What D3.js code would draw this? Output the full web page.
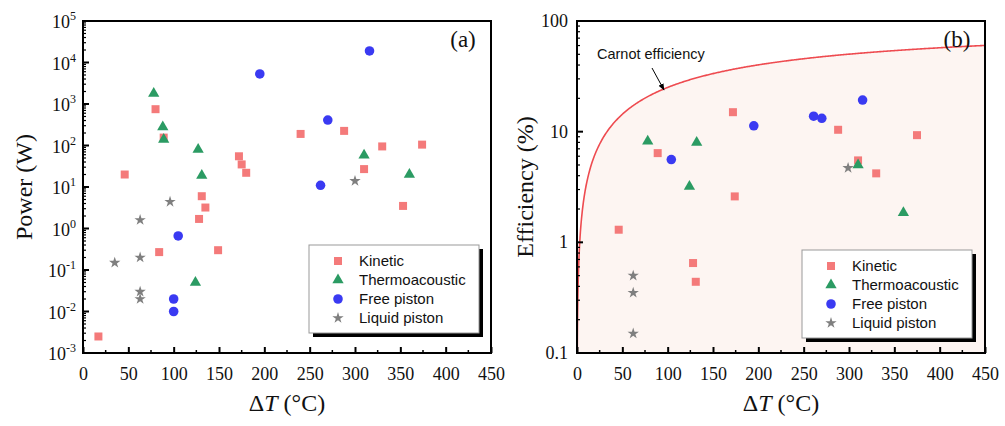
<!DOCTYPE html>
<html lang="en">
<head>
<meta charset="UTF-8">
<title>Power and efficiency vs temperature difference</title>
<script src="https://d3js.org/d3.v7.min.js"></script>
<style>
  body { margin: 0; background: #fff; }
  svg text { fill: #111; }
</style>
</head>
<body>
<div id="chart"></div>
<script>
// ---- data ----
var seriesNames = ["Kinetic", "Thermoacoustic", "Free piston", "Liquid piston"];
var seriesColors = ["#f47a7a", "#2b9b63", "#3a3af2", "#7f7f7f"];
var xTicks = [0, 50, 100, 150, 200, 250, 300, 350, 400, 450];

// (a) power, W
var kineticA_dT = [17, 46, 80, 89, 84, 131, 135, 128, 149, 172, 175, 180, 240, 288, 330, 374, 310, 353];
var kineticA_P = [0.0025, 20, 750, 155, 0.27, 6, 3.2, 1.7, 0.3, 55, 35, 22, 190, 225, 95, 105, 27, 3.5];
var thermoA_dT = [78, 88, 89, 127, 131, 124, 310, 360];
var thermoA_P = [1800, 280, 140, 80, 19, 0.05, 58, 20];
var freeA_dT = [195, 316, 270, 262, 105, 100, 100];
var freeA_P = [5300, 19000, 410, 11, 0.66, 0.02, 0.01];
var liquidA_dT = [96, 63, 35, 63, 63, 63, 300];
var liquidA_P = [4.4, 1.6, 0.15, 0.2, 0.03, 0.02, 14];

// (b) efficiency, %
var kineticB_dT = [172, 89, 174, 46, 128, 131, 288, 375, 310, 330];
var kineticB_eff = [15, 6.4, 2.6, 1.3, 0.65, 0.44, 10.4, 9.3, 5.5, 4.2];
var thermoB_dT = [78, 132, 124, 310, 360];
var thermoB_eff = [8.2, 8.0, 3.2, 5.0, 1.85];
var freeB_dT = [104, 195, 261, 270, 315];
var freeB_eff = [5.6, 11.3, 13.8, 13.2, 19.3];
var liquidB_dT = [62, 62, 62, 299];
var liquidB_eff = [0.5, 0.35, 0.15, 4.7];

var powerTicks = [-3, -2, -1, 0, 1, 2, 3, 4, 5];
var effTicks = ["0.1", "1", "10", "100"];
var coldTemp = 298.15; // K, for the Carnot line

var W = 1005, H = 426;
var svg = d3.select("#chart").append("svg").attr("width", W).attr("height", H);

var serif = "'Liberation Serif', 'Times New Roman', serif";
var sans = "'Liberation Sans', Arial, sans-serif";

function zip(xs, ys) { return xs.map(function(v, i) { return { x: v, y: ys[i] }; }); }

var symbols = [
  d3.symbol().type(d3.symbolSquare).size(64),
  d3.symbol().type(d3.symbolTriangle).size(55),
  d3.symbol().type(d3.symbolCircle).size(72),
  d3.symbol().type(d3.symbolStar).size(40)
];

function makePanel(opt) {
  var g = svg.append("g");
  var x = d3.scaleLinear().domain([0, 450]).range([opt.left, opt.right]);
  var y = d3.scaleLog().domain(opt.yDomain).range([opt.bottom, opt.top]);

  if (opt.beforeMarks) opt.beforeMarks(g, x, y);

  // markers
  opt.series.forEach(function(s, i) {
    g.append("g").selectAll("path")
      .data(s)
      .enter().append("path")
      .attr("d", symbols[i]())
      .attr("transform", function(d) { return "translate(" + x(d.x) + "," + y(d.y) + ")"; })
      .style("fill", seriesColors[i]);
  });

  // frame
  g.append("rect")
    .attr("x", opt.left).attr("y", opt.top)
    .attr("width", opt.right - opt.left).attr("height", opt.bottom - opt.top)
    .style("fill", "none").style("stroke", "#000").style("stroke-width", 2);

  // x ticks (inward)
  var xAxis = g.append("g").attr("transform", "translate(0," + opt.bottom + ")")
    .call(d3.axisBottom(x).tickValues(xTicks).tickSizeInner(-6).tickSizeOuter(0).tickPadding(14));
  xAxis.select(".domain").remove();
  xAxis.selectAll("line").style("stroke-width", 2);
  xAxis.selectAll("text").style("font-family", serif).style("font-size", "18px").style("fill", "#111");
  var minorX = d3.range(25, 450, 50);
  g.append("g").selectAll("line").data(minorX).enter().append("line")
    .attr("x1", function(d) { return x(d); }).attr("x2", function(d) { return x(d); })
    .attr("y1", opt.bottom).attr("y2", opt.bottom - 3)
    .style("stroke", "#000").style("stroke-width", 1.5);

  // y ticks (inward), major + minor
  var lo = Math.log10(opt.yDomain[0]), hi = Math.log10(opt.yDomain[1]);
  var minorY = [];
  for (var e = lo; e < hi; e++) {
    for (var m = 2; m <= 9; m++) minorY.push(m * Math.pow(10, e));
  }
  g.append("g").selectAll("line").data(minorY).enter().append("line")
    .attr("x1", opt.left).attr("x2", opt.left + 3)
    .attr("y1", function(d) { return y(d); }).attr("y2", function(d) { return y(d); })
    .style("stroke", "#000").style("stroke-width", 1.2);
  var majorY = d3.range(lo, hi + 1).map(function(e) { return Math.pow(10, e); });
  g.append("g").selectAll("line").data(majorY).enter().append("line")
    .attr("x1", opt.left).attr("x2", opt.left + 6)
    .attr("y1", function(d) { return y(d); }).attr("y2", function(d) { return y(d); })
    .style("stroke", "#000").style("stroke-width", 2);

  opt.yLabels(g, y);

  // axis titles
  var xt = g.append("text")
    .attr("x", (opt.left + opt.right) / 2).attr("y", 411)
    .attr("text-anchor", "middle")
    .style("font-family", serif).style("font-size", "24px");
  xt.append("tspan").text("\u0394");
  xt.append("tspan").style("font-style", "italic").text("T");
  xt.append("tspan").text(" (\u00b0C)");

  g.append("text")
    .attr("transform", "translate(" + opt.yTitleX + "," + ((opt.top + opt.bottom) / 2) + ") rotate(-90)")
    .attr("text-anchor", "middle")
    .style("font-family", serif).style("font-size", "24px")
    .text(opt.yTitle);

  // panel tag
  g.append("text")
    .attr("x", opt.right - 28).attr("y", 47)
    .attr("text-anchor", "middle")
    .style("font-family", serif).style("font-size", "23px")
    .text(opt.tag);

  // legend
  var lx = opt.legend[0], ly = opt.legend[1], lw = 170, lh = 88;
  g.append("rect").attr("x", lx + 4).attr("y", ly + 4).attr("width", lw).attr("height", lh)
    .style("fill", "#000");
  g.append("rect").attr("x", lx).attr("y", ly).attr("width", lw).attr("height", lh)
    .style("fill", "#fff").style("stroke", "#999").style("stroke-width", 1);
  seriesNames.forEach(function(name, i) {
    var ry = ly + 16 + i * 19;
    g.append("path").attr("d", symbols[i]())
      .attr("transform", "translate(" + (lx + 29) + "," + ry + ")")
      .style("fill", seriesColors[i]);
    g.append("text").attr("x", lx + 50).attr("y", ry + 5)
      .style("font-family", sans).style("font-size", "15px")
      .text(name);
  });
}

// ---- panel (a) ----
makePanel({
  left: 83, right: 491, top: 21, bottom: 353,
  yDomain: [1e-3, 1e5],
  series: [zip(kineticA_dT, kineticA_P), zip(thermoA_dT, thermoA_P), zip(freeA_dT, freeA_P), zip(liquidA_dT, liquidA_P)],
  yTitle: "Power (W)", yTitleX: 32, tag: "(a)",
  legend: [309, 245],
  yLabels: function(g, y) {
    powerTicks.forEach(function(e) {
      var t = g.append("text")
        .attr("x", 76).attr("y", y(Math.pow(10, e)) + 7)
        .attr("text-anchor", "end")
        .style("font-family", serif).style("font-size", "18px");
      t.append("tspan").text("10");
      t.append("tspan").attr("dy", -8).style("font-size", "12px").text(String(e));
    });
  }
});

// ---- panel (b) ----
makePanel({
  left: 577, right: 985, top: 21, bottom: 353,
  yDomain: [0.1, 100],
  series: [zip(kineticB_dT, kineticB_eff), zip(thermoB_dT, thermoB_eff), zip(freeB_dT, freeB_eff), zip(liquidB_dT, liquidB_eff)],
  yTitle: "Efficiency (%)", yTitleX: 533, tag: "(b)",
  legend: [802, 250],
  beforeMarks: function(g, x, y) {
    // Carnot efficiency: 100 * dT / (dT + Tc)
    var dts = [0.3];
    for (var t = 0.5; t < 5; t += 0.1) dts.push(t);
    for (var t2 = 5; t2 <= 450; t2 += 1) dts.push(t2);
    var carnot = dts.map(function(d) { return { x: d, y: 100 * d / (d + coldTemp) }; });

    var clipId = "clipB";
    g.append("clipPath").attr("id", clipId).append("rect")
      .attr("x", 577).attr("y", 21).attr("width", 408).attr("height", 332);

    var area = d3.area()
      .x(function(d) { return x(d.x); })
      .y0(353)
      .y1(function(d) { return y(d.y); });
    g.append("path").datum(carnot).attr("d", area)
      .attr("clip-path", "url(#" + clipId + ")")
      .style("fill", "#fdf5f2");

    var line = d3.line()
      .x(function(d) { return x(d.x); })
      .y(function(d) { return y(d.y); });
    g.append("path").datum(carnot).attr("d", line)
      .attr("clip-path", "url(#" + clipId + ")")
      .style("fill", "none").style("stroke", "#ee4b50").style("stroke-width", 1.6);

    // annotation
    g.append("text").attr("x", 597).attr("y", 59)
      .style("font-family", sans).style("font-size", "14.5px")
      .text("Carnot efficiency");
    g.append("defs").append("marker")
      .attr("id", "arrowB").attr("viewBox", "0 0 10 10")
      .attr("refX", 9).attr("refY", 5)
      .attr("markerWidth", 7).attr("markerHeight", 7)
      .attr("orient", "auto")
      .append("path").attr("d", "M0,1 L10,5 L0,9 Z").style("fill", "#000");
    g.append("line").attr("x1", 652).attr("y1", 68).attr("x2", 664).attr("y2", 90)
      .style("stroke", "#000").style("stroke-width", 1)
      .attr("marker-end", "url(#arrowB)");
  },
  yLabels: function(g, y) {
    effTicks.forEach(function(v) {
      g.append("text")
        .attr("x", 568).attr("y", y(+v) + 6)
        .attr("text-anchor", "end")
        .style("font-family", serif).style("font-size", "18px")
        .text(v);
    });
  }
});
</script>
</body>
</html>
